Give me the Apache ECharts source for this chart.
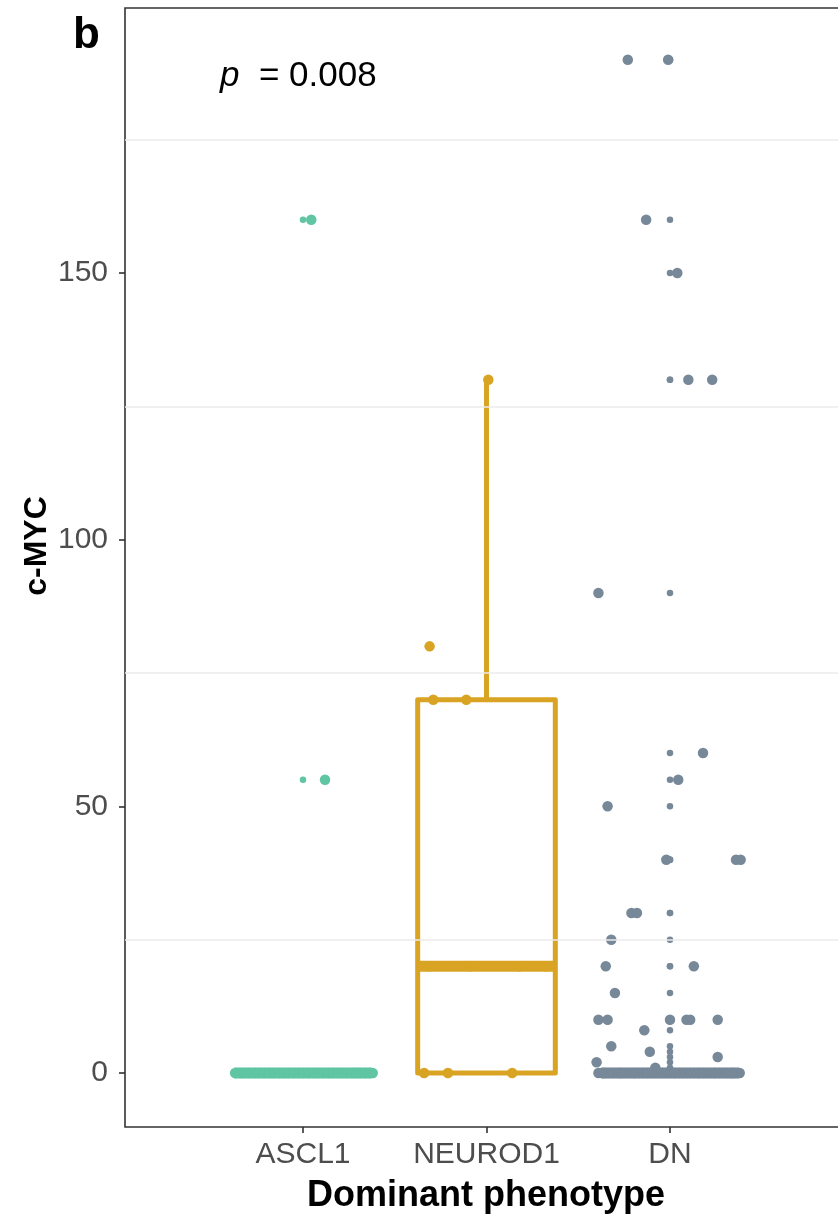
<!DOCTYPE html>
<html>
<head>
<meta charset="utf-8">
<script src="https://cdn.jsdelivr.net/npm/echarts@6/dist/echarts.min.js"></script>
<style>
html,body{margin:0;padding:0;background:#fff;}
#chart{width:838px;height:1217px;}
</style>
</head>
<body>
<div id="chart"></div>
<script>
// ---------- data ----------
const categories = ['ASCL1', 'NEUROD1', 'DN'];
const yTickValues = [0, 50, 100, 150];
const minorGridValues = [25, 75, 125, 175];
// box statistics per category: [lower whisker, Q1, median, Q3, upper whisker]
const boxStats = [
  [0, 0, 0, 0, 0],
  [0, 0, 20, 70, 130],
  [0, 0, 0, 0, 0]
];
// ASCL1 observations and their horizontal jitter (category units)
const ascl1Values = [160, 55,
  0, 0, 0, 0, 0, 0, 0, 0, 0, 0, 0, 0, 0, 0, 0, 0, 0, 0, 0, 0, 0, 0, 0, 0, 0, 0, 0, 0, 0, 0, 0, 0];
const ascl1Jitter = [0.045, 0.12,
  -0.37, -0.34, -0.32, -0.29, -0.26, -0.24, -0.21, -0.18, -0.16, -0.13, -0.10, -0.08, -0.05, -0.02,
  0.00, 0.03, 0.06, 0.08, 0.11, 0.14, 0.16, 0.19, 0.21, 0.24, 0.27, 0.29, 0.31, 0.34, 0.36, 0.38];
// NEUROD1 observations and jitter
const neurod1Values = [130, 80, 70, 70, 20, 20, 20, 20, 0, 0, 0];
const neurod1Jitter = [0.01, -0.31, -0.29, -0.11, -0.31, -0.09, 0.18, 0.32, -0.34, -0.21, 0.14];
// DN observations and jitter
const dnValues = [190, 190, 160, 150, 130, 130, 90, 60, 55, 50, 40, 40, 40, 30, 30, 25, 20, 20, 15,
  10, 10, 10, 10, 10, 10, 8, 5, 4, 3, 2, 1,
  0, 0, 0, 0, 0, 0, 0, 0, 0, 0, 0, 0, 0, 0, 0, 0, 0, 0, 0, 0, 0, 0, 0, 0, 0, 0, 0, 0, 0, 0,
  0, 0, 0, 0, 0, 0, 0, 0, 0, 0, 0, 0, 0, 0, 0, 0];
const dnJitter = [-0.23, -0.01, -0.13, 0.04, 0.10, 0.23, -0.39, 0.18, 0.045, -0.34, -0.02, 0.36, 0.385,
  -0.21, -0.18, -0.32, -0.35, 0.13, -0.30,
  -0.39, -0.34, 0.00, 0.09, 0.11, 0.26, -0.14, -0.32, -0.11, 0.26, -0.40, -0.08,
  -0.39, -0.37, -0.35, -0.33, -0.31, -0.28, -0.26, -0.24, -0.22, -0.19, -0.17, -0.15, -0.13, -0.10,
  -0.08, -0.06, -0.04, -0.02, 0.00, 0.02, 0.05, 0.07, 0.09, 0.11, 0.13, 0.16, 0.18, 0.20, 0.22,
  0.24, 0.27, 0.29, 0.31, 0.33, 0.35, 0.37, 0.38, -0.36, -0.27, -0.12, 0.03, 0.15, 0.25, 0.34, -0.20];

const catColors = ['#5FC5A2', '#D9A423', '#778899'];
const groups = [
  {values: ascl1Values, jitter: ascl1Jitter},
  {values: neurod1Values, jitter: neurod1Jitter},
  {values: dnValues, jitter: dnJitter}
];

// ---------- build series ----------
const boxData = boxStats.map((s, i) => [i + 1].concat(s));

function renderBox(params, api) {
  const idx = api.value(0);
  const low = api.value(1), q1 = api.value(2), med = api.value(3), q3 = api.value(4), high = api.value(5);
  const half = api.size([0.75, 0])[0] / 2;
  const cx = api.coord([idx, 0])[0];
  const yLow = api.coord([idx, low])[1];
  const yQ1 = api.coord([idx, q1])[1];
  const yMed = api.coord([idx, med])[1];
  const yQ3 = api.coord([idx, q3])[1];
  const yHigh = api.coord([idx, high])[1];
  const color = catColors[idx - 1];
  return {
    type: 'group',
    children: [
      {type: 'line', shape: {x1: cx, y1: yQ3, x2: cx, y2: yHigh}, style: {stroke: color, lineWidth: 5}},
      {type: 'line', shape: {x1: cx, y1: yLow, x2: cx, y2: yQ1}, style: {stroke: color, lineWidth: 5}},
      {type: 'rect', shape: {x: cx - half, y: yQ3, width: 2 * half, height: yQ1 - yQ3},
        style: {fill: '#ffffff', stroke: color, lineWidth: 5, lineJoin: 'round'}},
      {type: 'line', shape: {x1: cx - half, y1: yMed, x2: cx + half, y2: yMed}, style: {stroke: color, lineWidth: 11}}
    ]
  };
}

const series = [];
// minor grid lines
series.push({
  type: 'scatter', data: [], z: 1, silent: true,
  markLine: {
    silent: true, symbol: 'none', animation: false,
    label: {show: false},
    lineStyle: {color: '#ebebeb', width: 1.6, type: 'solid'},
    data: minorGridValues.map(v => ({yAxis: v}))
  }
});
// boxes
series.push({
  type: 'custom', renderItem: renderBox, data: boxData, z: 2, silent: true,
  encode: {x: 0, y: [1, 2, 3, 4, 5]}
});
// outliers (at category centre)
groups.forEach((g, i) => {
  const s = boxStats[i];
  const out = g.values.filter(v => v > s[4] || v < s[0]).map(v => [i + 1, v]);
  series.push({
    type: 'scatter', data: out, symbol: 'circle', symbolSize: 6.5, z: 3, silent: true,
    itemStyle: {color: catColors[i], opacity: 1}
  });
});
// jittered points
groups.forEach((g, i) => {
  series.push({
    type: 'scatter', symbol: 'circle', symbolSize: 10.5, z: 4, silent: true,
    data: g.values.map((v, k) => [i + 1 + g.jitter[k], v]),
    itemStyle: {color: catColors[i], opacity: 1}
  });
});

const FONT = '"Liberation Sans", Arial, Helvetica, sans-serif';
const chart = echarts.init(document.getElementById('chart'), null, {renderer: 'canvas'});
chart.setOption({
  animation: false,
  backgroundColor: '#ffffff',
  grid: {left: 125, width: 725, top: 8, height: 1119, show: true, borderColor: '#333333', borderWidth: 1.6,
    backgroundColor: 'transparent', containLabel: false, outerBoundsMode: 'none'},
  xAxis: {
    type: 'value', min: 0.03, max: 3.981,
    axisLine: {show: false, onZero: false},
    splitLine: {show: false},
    axisTick: {show: true, customValues: [1, 2, 3], length: 6, lineStyle: {color: '#333333', width: 1.6}},
    axisLabel: {show: true, customValues: [1, 2, 3], margin: 13, color: '#4d4d4d', fontSize: 30, fontFamily: FONT,
      formatter: v => categories[Math.round(v) - 1] || ''}
  },
  yAxis: {
    type: 'value', min: -10.125, max: 199.69,
    axisLine: {show: false, onZero: false},
    splitLine: {show: false},
    axisTick: {show: true, customValues: yTickValues, length: 6, lineStyle: {color: '#333333', width: 1.6}},
    axisLabel: {show: true, customValues: yTickValues, margin: 17, color: '#4d4d4d', fontSize: 30, fontFamily: FONT}
  },
  graphic: [
    {type: 'text', x: 73, y: 36, silent: true,
      style: {text: 'b', font: 'bold 44px ' + FONT, fill: '#000', align: 'left', verticalAlign: 'middle'}},
    {type: 'text', x: 220, y: 76, silent: true,
      style: {
        text: '{i|p}{n|  = 0.008}',
        rich: {
          i: {font: 'italic 35px ' + FONT, fill: '#000'},
          n: {font: '35px ' + FONT, fill: '#000'}
        },
        align: 'left', verticalAlign: 'middle'
      }},
    {type: 'text', x: 486, y: 1196, silent: true,
      style: {text: 'Dominant phenotype', font: 'bold 36px ' + FONT, fill: '#000', align: 'center', verticalAlign: 'middle'}},
    {type: 'text', x: 37, y: 546, rotation: Math.PI / 2, silent: true,
      style: {text: 'c-MYC', font: 'bold 32px ' + FONT, fill: '#000', align: 'center', verticalAlign: 'middle'}}
  ],
  series: series
});
</script>
</body>
</html>
